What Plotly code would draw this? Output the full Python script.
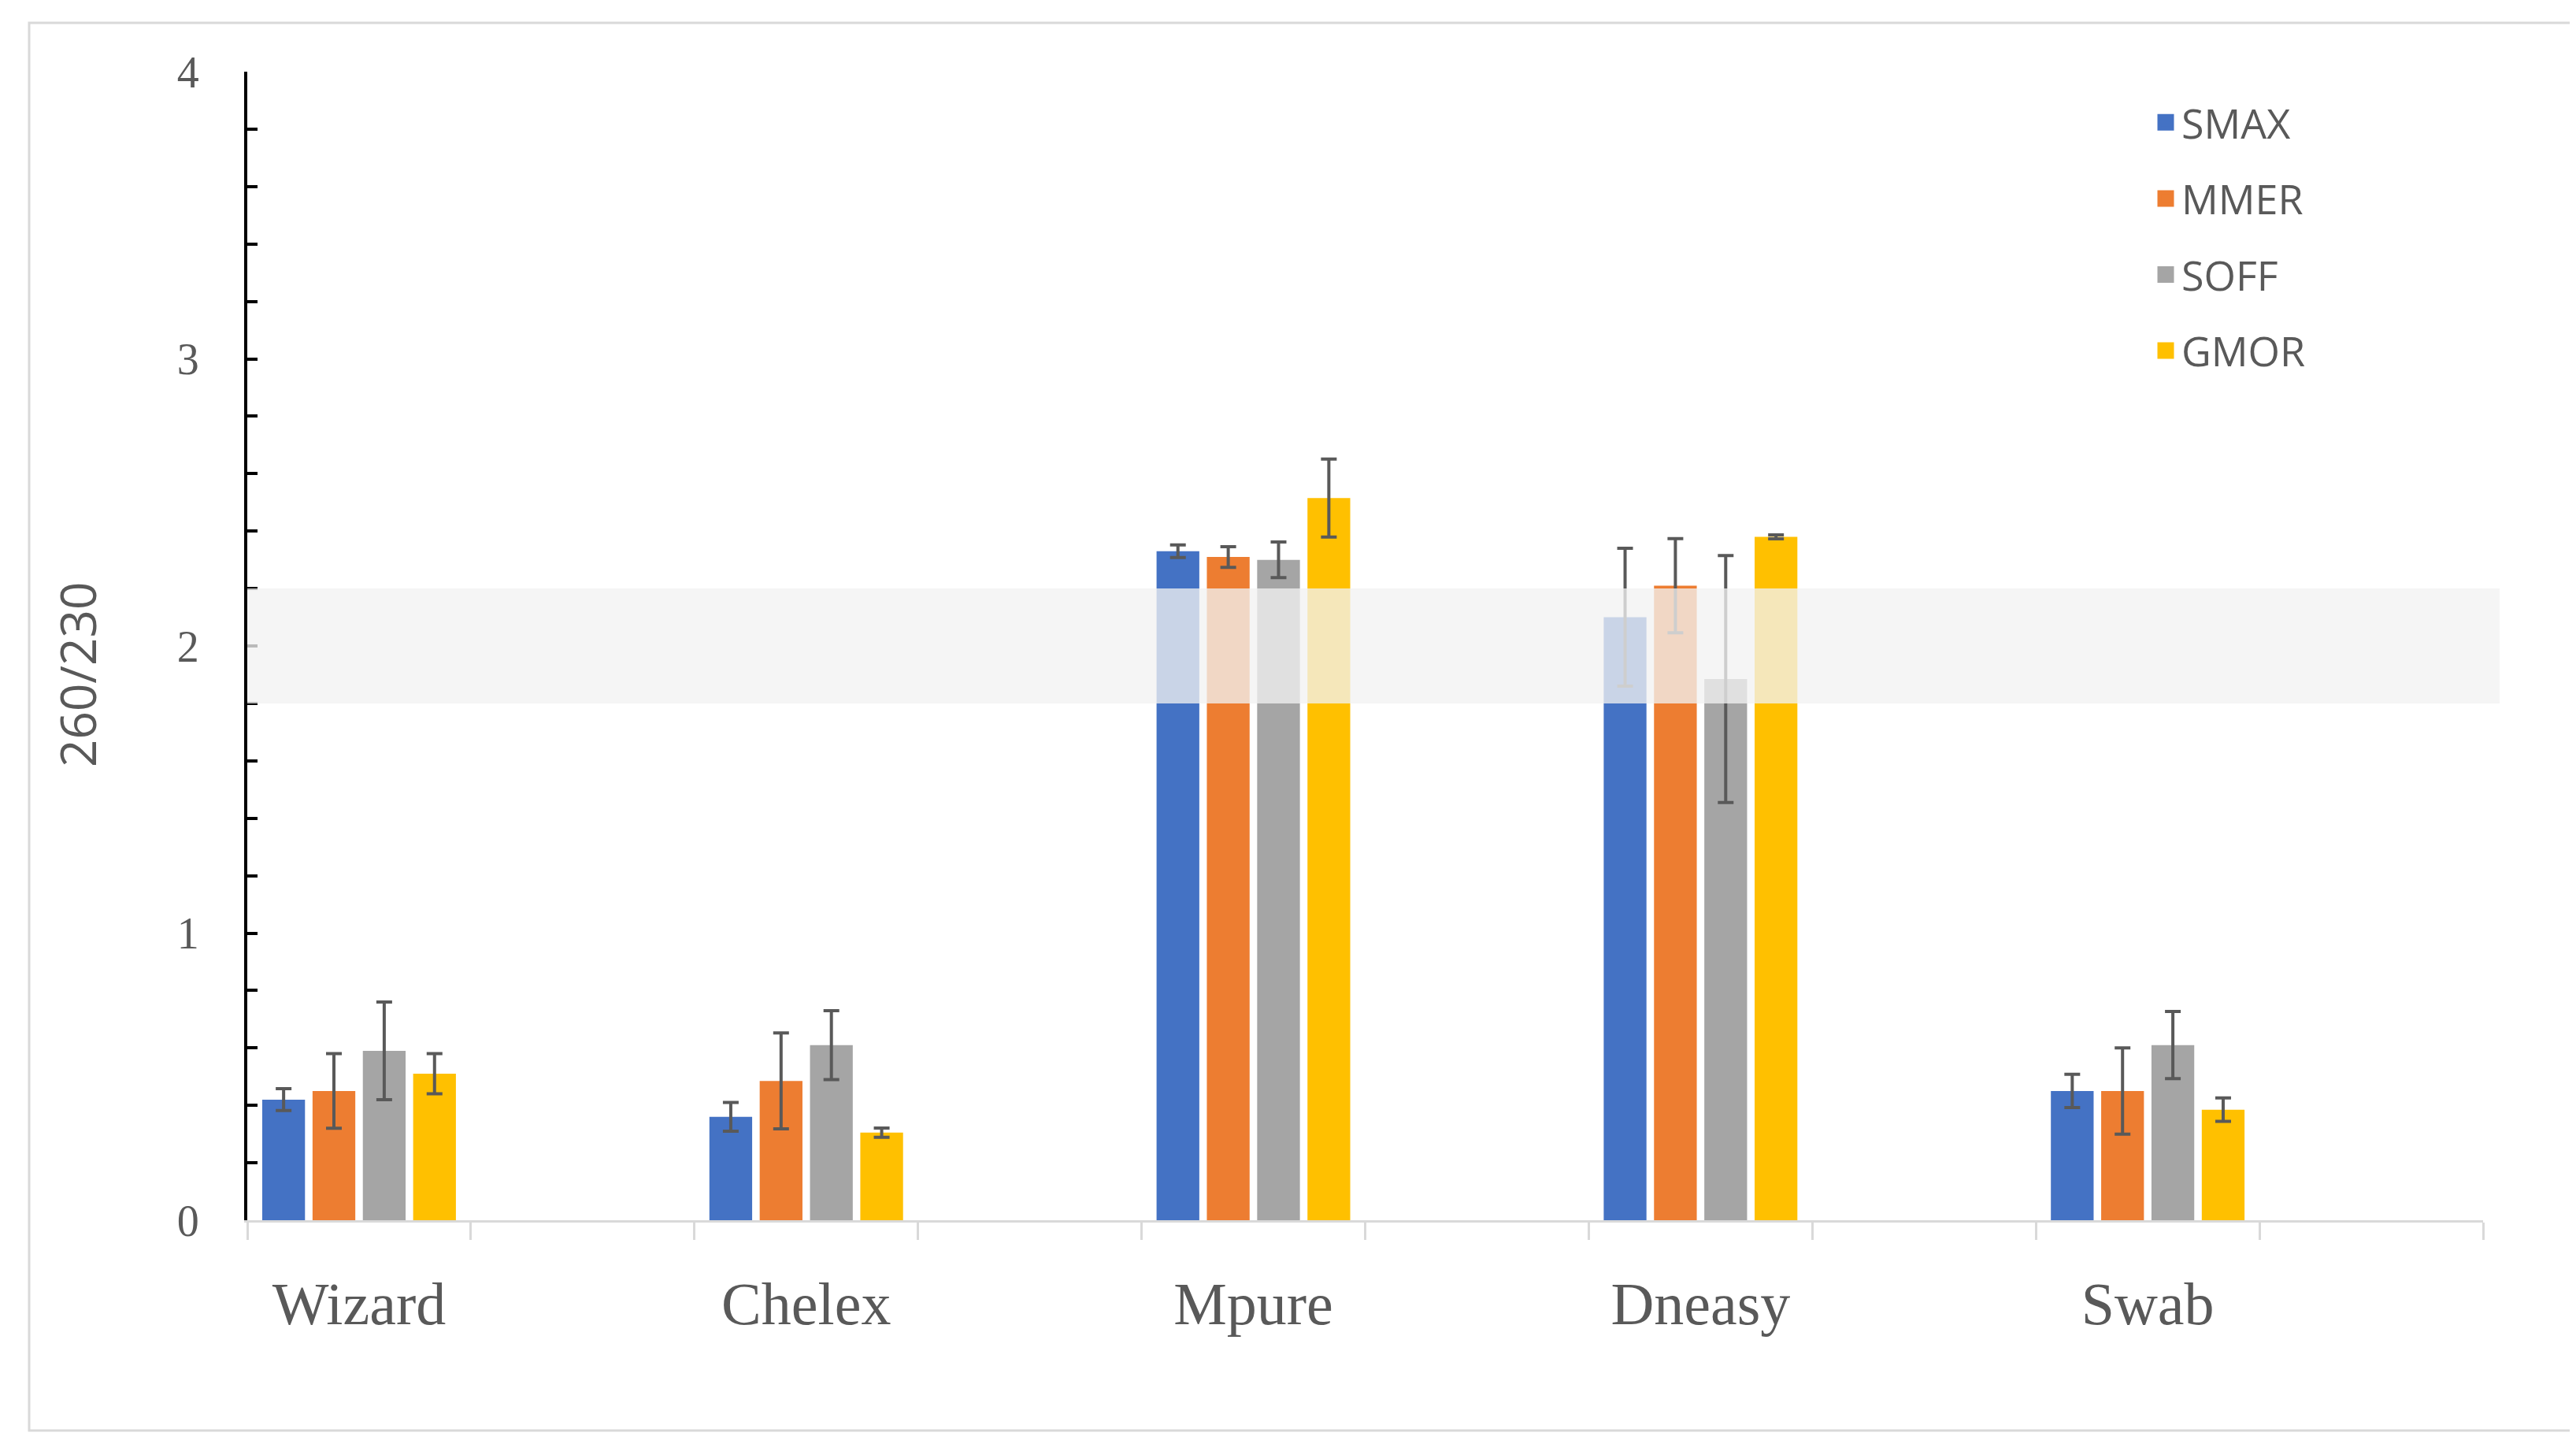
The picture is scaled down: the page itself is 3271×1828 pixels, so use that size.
import plotly.graph_objects as go

categories = ["Wizard", " ", "Chelex", "  ", "Mpure", "   ", "Dneasy", "    ", "Swab", "     "]
series_names = ["SMAX", "MMER", "SOFF", "GMOR"]
smax = [0.42, None, 0.36, None, 2.33, None, 2.10, None, 0.45, None]
smax_err = [0.038, None, 0.05, None, 0.022, None, 0.24, None, 0.058, None]
mmer = [0.45, None, 0.485, None, 2.31, None, 2.21, None, 0.45, None]
mmer_err = [0.13, None, 0.167, None, 0.036, None, 0.164, None, 0.15, None]
soff = [0.59, None, 0.61, None, 2.30, None, 1.885, None, 0.61, None]
soff_err = [0.17, None, 0.12, None, 0.062, None, 0.43, None, 0.117, None]
gmor = [0.51, None, 0.305, None, 2.515, None, 2.38, None, 0.385, None]
gmor_err = [0.07, None, 0.016, None, 0.136, None, 0.007, None, 0.041, None]
colors = ["#4472C4", "#ED7D31", "#A5A5A5", "#FFC000"]
band_range = [1.8, 2.2]
y_title = "260/230"

values = [smax, mmer, soff, gmor]
errors = [smax_err, mmer_err, soff_err, gmor_err]

W, H = 3271, 1828
ML, MR, MT, MB = 306, 126, 83, 287
pw = W - ML - MR
ph = H - MT - MB

fig = go.Figure()
for name, v, e, c in zip(series_names, values, errors, colors):
    fig.add_trace(go.Bar(
        name=name, x=categories, y=v, marker=dict(color=c, line=dict(width=0)),
        error_y=dict(type="data", array=e, visible=True, color="#595959", thickness=4, width=10),
        legendgroup=name, showlegend=False,
    ))
# legend entries (square swatches) for the same series
for name, c in zip(series_names, colors):
    fig.add_trace(go.Scatter(
        name=name, x=[None], y=[None], mode="markers", legendgroup=name, showlegend=True,
        marker=dict(symbol="square", size=16, color=c, line=dict(color=c, width=5)),
        hoverinfo="skip",
    ))


def px_to_paper_x(px):
    return (px - ML) / pw


def px_to_paper_y(py):
    return (H - MB - py) / ph


# highlighted band 1.8-2.2
fig.add_shape(type="rect", xref="paper", yref="y", x0=0, x1=px_to_paper_x(3166),
              y0=band_range[0], y1=band_range[1], fillcolor="rgba(242,242,242,0.77)",
              line=dict(width=0), layer="above")
# outer chart frame
fig.add_shape(type="rect", xref="paper", yref="paper", x0=px_to_paper_x(29), x1=px_to_paper_x(3257),
              y0=px_to_paper_y(1808), y1=px_to_paper_y(21), line=dict(color="#d9d9d9", width=3),
              fillcolor="rgba(0,0,0,0)", layer="below")

fig.add_annotation(text=y_title, xref="paper", yref="paper", x=px_to_paper_x(90), y=px_to_paper_y(849),
                   xanchor="center", yanchor="middle", textangle=-90, showarrow=False,
                   font=dict(family="Open Sans", size=62, color="#595959"))

fig.update_layout(
    width=W, height=H,
    margin=dict(l=ML, r=MR, t=MT, b=MB, autoexpand=False),
    paper_bgcolor="white", plot_bgcolor="white",
    barmode="group", bargap=0.1, bargroupgap=0.15,
    showlegend=True,
    legend=dict(x=px_to_paper_x(2722), y=px_to_paper_y(107), xanchor="left", yanchor="top",
                font=dict(family="Open Sans", size=52, color="#595959"),
                traceorder="grouped", tracegroupgap=26, bgcolor="rgba(0,0,0,0)"),
    xaxis=dict(
        type="category", showgrid=False, showline=True, linecolor="#d9d9d9", linewidth=3,
        ticks="outside", tickson="boundaries", ticklen=22, tickcolor="#d9d9d9", tickwidth=3,
        tickfont=dict(family="Liberation Serif", size=76, color="#595959"),
        ticklabelstandoff=38, zeroline=False,
    ),
    yaxis=dict(
        range=[0, 4], dtick=1, showgrid=False, zeroline=False, showline=True,
        linecolor="black", linewidth=4, ticks="inside", ticklen=13, tickcolor="black", tickwidth=4,
        minor=dict(dtick=0.2, ticks="inside", ticklen=13, tickcolor="black", tickwidth=4, showgrid=False),
        tickfont=dict(family="Liberation Serif", size=56, color="#595959"),
        ticklabelstandoff=46,
    ),
)

fig.write_html("out.html")
